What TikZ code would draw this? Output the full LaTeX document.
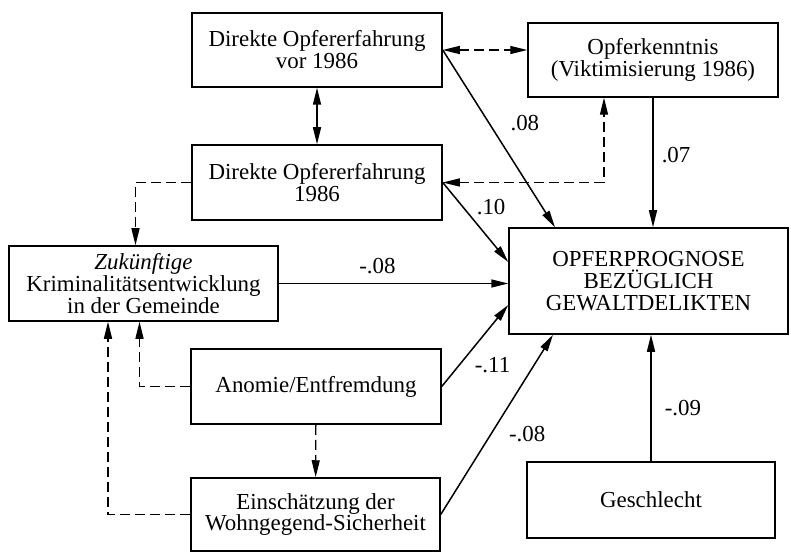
\documentclass[tikz,border=0pt]{standalone}
\usepackage{fontspec}
\setmainfont{Liberation Serif}
\usetikzlibrary{arrows.meta}

\begin{document}
\begin{tikzpicture}[x=1bp,y=-1bp,
    box/.style={draw,rectangle,line width=1.5bp,align=center,inner sep=2bp,
        font=\fontsize{23}{22}\selectfont},
    lab/.style={inner sep=1bp,font=\fontsize{23}{22}\selectfont},
    >={Triangle[length=17bp,width=8bp]},
    pfeil/.style={line width=1.5bp},
    strich/.style={line width=1.3bp,dash pattern=on 10bp off 5bp}]
    \useasboundingbox (0,0) rectangle (791,553);

    \node[box,minimum width=250bp,minimum height=74bp] (vor) at (317,50) {Direkte Opfererfahrung\\vor 1986};
    \node[box,minimum width=250bp,minimum height=75bp] (opf) at (317,182.5) {Direkte Opfererfahrung\\1986};
    \node[box,minimum width=250bp,minimum height=74bp] (kenn) at (653,60) {Opferkenntnis\\(Viktimisierung 1986)};
    \node[box,minimum width=279bp,minimum height=106bp] (prog) at (648.5,281) {OPFERPROGNOSE\\BEZÜGLICH\\GEWALTDELIKTEN};
    \node[box,minimum width=269bp,minimum height=75bp] (zuk) at (143.5,283.5) {\textit{Zukünftige}\\Kriminalitätsentwicklung\\in der Gemeinde};
    \node[box,minimum width=250bp,minimum height=75bp] (anom) at (316,386.5) {Anomie/Entfremdung};
    \node[box,minimum width=249bp,minimum height=73bp] (wohn) at (315.5,514.5) {Einschätzung der\\Wohngegend-Sicherheit};
    \node[box,minimum width=248bp,minimum height=76bp] (geschl) at (651,500) {Geschlecht};

    \draw[pfeil,<->] (vor) -- (opf);
    \draw[strich,<->] (vor.east) -- (vor.east -| kenn.west);
    \draw[strich,<->] (opf.east) -| ([xshift=-49bp]kenn.south);
    \draw[strich,->] (opf.west) -| ([xshift=-8bp]zuk.north);
    \draw[strich,->] (anom.west) -| ([xshift=-4bp]zuk.south);
    \draw[strich,->] (wohn.west) -| ([xshift=-35.5bp]zuk.south);
    \draw[strich,->] (anom) -- (wohn);

    \draw[pfeil,->] (vor.east) -- node[lab,pos=.41,right=20bp] {.08} ([xshift=-93.5bp]prog.north);
    \draw[pfeil,->] (kenn) -- node[lab,pos=.44,right=7bp] {.07} (kenn.south |- prog.north);
    \draw[pfeil,->] (opf.east) -- node[lab,pos=.31,right=12bp] {.10} ([yshift=19bp]prog.west);
    \draw[pfeil,->] (zuk.east) -- node[lab,pos=.43,above=8bp] {-.08} (zuk.east -| prog.west);
    \draw[pfeil,->] (anom.east) -- node[lab,pos=.26,right=14bp] {-.11} ([yshift=-24bp]prog.west);
    \draw[pfeil,->] (wohn.east) -- node[lab,pos=.45,right=16bp] {-.08} ([xshift=-95.5bp]prog.south);
    \draw[pfeil,->] (geschl) -- node[lab,pos=.42,right=12bp] {-.09} (geschl.north |- prog.south);
\end{tikzpicture}
\end{document}
